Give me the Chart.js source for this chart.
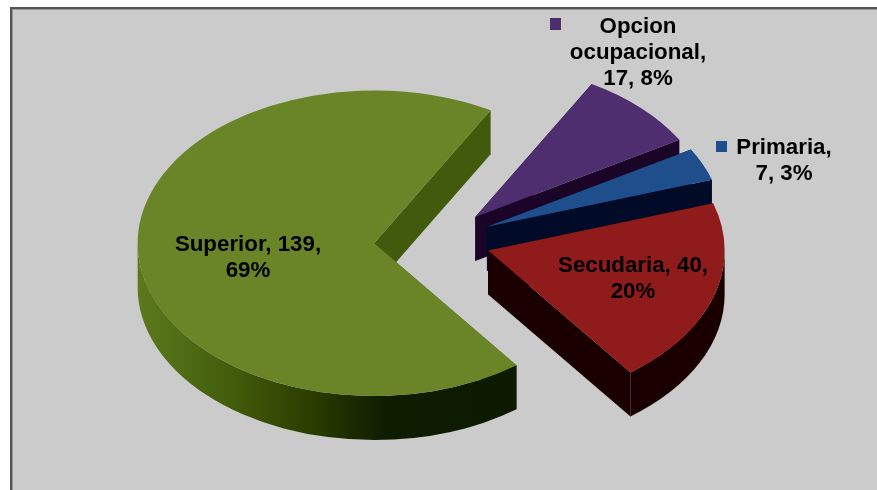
<!DOCTYPE html>
<html>
<head>
<meta charset="utf-8">
<style>
html,body{margin:0;padding:0;background:#fff;overflow:hidden}
#wrap{width:877px;height:490px}
canvas{display:block;filter:blur(0.45px)}
</style>
<script src="https://cdn.jsdelivr.net/npm/chart.js@4"></script>
</head>
<body>
<div id="wrap"><canvas id="c" width="877" height="490"></canvas></div>
<script>
// Data
const categories = ['Opcion ocupacional', 'Primaria', 'Secudaria', 'Superior'];
const values = [17, 7, 40, 139];
const percents = [8, 3, 20, 69];

// Styles
const topColors = ['#4e2e6f', '#1e4f8c', '#8f1b1b', '#698528'];
const wallColors = ['#1a0428', '#010a26', '#1a0000', '#415a0c'];
const explode = [51, 52, 51, 65.5];
const SQUASH = 0.646, DEPTH = 44, RADIUS = 236.5;

// Label layout: line breaks and anchor for each slice's text
const labelBreaks = [
  () => ['Opcion', 'ocupacional,', `${values[0]}, ${percents[0]}%`],
  () => ['Primaria,', `${values[1]}, ${percents[1]}%`],
  () => [`Secudaria, ${values[2]},`, `${percents[2]}%`],
  () => [`Superior, ${values[3]},`, `${percents[3]}%`]
];
const labelAnchors = [[638, 33], [784, 154], [633, 272], [248, 251]];
const keyBoxes = [[550, 18, 11, 12], [716, 141, 11, 11], null, null];

const pie3d = {
  id: 'pie3d',
  beforeDraw(chart) {
    const c = chart.ctx;
    c.save();
    c.fillStyle = '#ffffff'; c.fillRect(0, 0, 877, 490);
    c.fillStyle = '#555555'; c.fillRect(10, 7, 867, 483);
    c.fillStyle = '#9a9a9a'; c.fillRect(12, 9, 865, 481);
    c.fillStyle = '#cbcbcb'; c.fillRect(13, 10, 864, 480);
    c.restore();
  },
  beforeDatasetDraw(chart, args) {
    const c = chart.ctx;
    const arcs = args.meta.data;
    const order = [3, 0, 1, 2];
    const PI = Math.PI;
    order.forEach(i => {
      const arc = arcs[i];
      const { x, y, startAngle: a, endAngle: b, outerRadius: r } = arc.getProps(['x', 'y', 'startAngle', 'endAngle', 'outerRadius'], true);
      const mid = (a + b) / 2;
      const cx = x + Math.cos(mid) * explode[i];
      const cy = y + Math.sin(mid) * explode[i] * SQUASH;
      const ry = r * SQUASH;
      const rim = t => [cx + Math.cos(t) * r, cy + Math.sin(t) * ry];

      // cut walls
      c.fillStyle = wallColors[i];
      [a, b].forEach(t => {
        const p = rim(t);
        c.beginPath();
        c.moveTo(cx, cy);
        c.lineTo(p[0], p[1]);
        c.lineTo(p[0], p[1] + DEPTH);
        c.lineTo(cx, cy + DEPTH);
        c.closePath();
        c.fill();
      });

      // outer rim: only the front half of the ellipse is ever visible
      const from = Math.max(a, 0), to = Math.min(b, PI);
      if (to > from) {
        let fill = wallColors[i];
        if (i === 3) {
          const g = c.createLinearGradient(138, 0, 515, 0);
          g.addColorStop(0, '#5c7a1c');
          g.addColorStop(0.27, '#40590a');
          g.addColorStop(0.45, '#2c3e00');
          g.addColorStop(0.66, '#0e1c00');
          g.addColorStop(1, '#0c1a00');
          fill = g;
        }
        c.fillStyle = fill;
        c.beginPath();
        c.ellipse(cx, cy, r, ry, 0, from, to);
        c.ellipse(cx, cy + DEPTH, r, ry, 0, to, from, true);
        c.closePath();
        c.fill();
      }

      // top face: the library's own arc under a squashed transform
      c.save();
      c.translate(cx, cy);
      c.scale(1, SQUASH);
      c.translate(-x, -y);
      arc.draw(c);
      c.restore();
    });
    return false;
  },
  afterDatasetsDraw(chart) {
    const c = chart.ctx;
    c.save();
    c.font = 'bold 22.3px "Liberation Sans", Arial, sans-serif';
    c.textAlign = 'center';
    c.textBaseline = 'alphabetic';
    categories.forEach((name, i) => {
      if (keyBoxes[i]) {
        c.fillStyle = topColors[i];
        c.fillRect.apply(c, keyBoxes[i]);
      }
      c.fillStyle = '#000000';
      labelBreaks[i]().forEach((line, k) => {
        c.fillText(line, labelAnchors[i][0], labelAnchors[i][1] + k * 26);
      });
    });
    c.restore();
  }
};

new Chart(document.getElementById('c'), {
  type: 'pie',
  data: {
    labels: categories,
    datasets: [{
      data: values,
      backgroundColor: topColors,
      borderWidth: 0,
      offset: 0
    }]
  },
  options: {
    responsive: false,
    animation: false,
    rotation: 29.5,
    radius: RADIUS,
    layout: { padding: { left: 2, bottom: 9 } },
    plugins: { legend: { display: false }, tooltip: { enabled: false }, title: { display: false } },
    events: []
  },
  plugins: [pie3d]
});
</script>
</body>
</html>
